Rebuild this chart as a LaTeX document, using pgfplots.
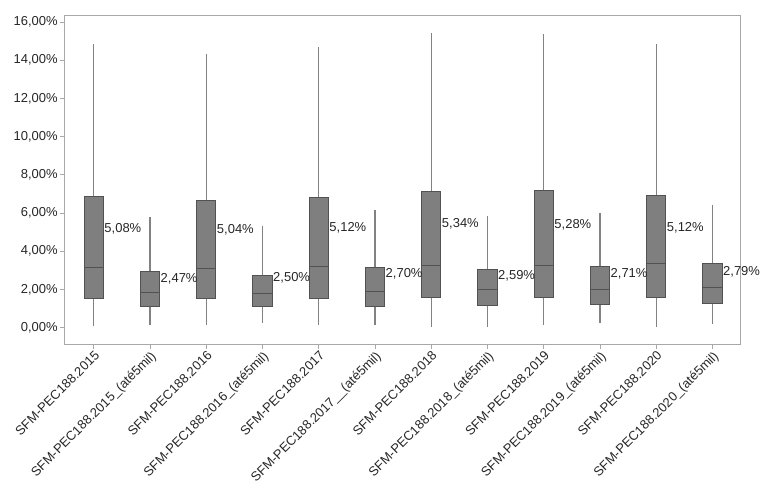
\documentclass[border=0pt]{standalone}
\usepackage{pgfplots}
\pgfplotsset{compat=1.18}
\usepgfplotslibrary{statistics}
\usepackage{fontspec}
\setmainfont{Liberation Sans}

\definecolor{boxfill}{HTML}{7F7F7F}
\definecolor{boxline}{HTML}{525252}
\definecolor{whisk}{HTML}{828282}
\definecolor{axline}{HTML}{A8A8A8}

\begin{document}
\begin{tikzpicture}
\begin{axis}[
    scale only axis,
    width=677pt, height=330pt,
    xmin=-0.53, xmax=11.49,
    ymin=-0.89, ymax=16.37,
    axis line style={axline},
    tick style={axline, line width=0.8pt},
    tick align=outside,
    major tick length=4pt,
    xtick pos=bottom, ytick pos=left,
    xtick={0,...,11},
    xticklabels={SFM-PEC188.2015, SFM-PEC188.2015\_(até5mil),
                 SFM-PEC188.2016, SFM-PEC188.2016\_(até5mil),
                 SFM-PEC188.2017, SFM-PEC188.2017\_\_(até5mil),
                 SFM-PEC188.2018, SFM-PEC188.2018\_(até5mil),
                 SFM-PEC188.2019, SFM-PEC188.2019\_(até5mil),
                 SFM-PEC188.2020, SFM-PEC188.2020\_(até5mil)},
    xticklabel style={rotate=45, anchor=north east, inner sep=1pt,
                      font=\fontsize{13}{15}\selectfont, text=black!85},
    ytick={0,2,...,16},
    yticklabel={\pgfmathprintnumber[fixed,fixed zerofill,precision=2,use comma]{\tick}\%},
    yticklabel style={font=\fontsize{13}{15}\selectfont, text=black!85, inner sep=2pt},
    /pgf/number format/assume math mode=true,
    boxplot/draw direction=y,
    boxplot/box extend=0.34,
    boxplot/whisker extend=0,
    boxplot/every box/.style={draw=boxline, fill=boxfill, line width=0.9pt},
    boxplot/every whisker/.style={draw=whisk, line width=1.2pt},
    boxplot/every median/.style={draw=boxline, line width=0.9pt},
]
% draw position, lower whisker, lower quartile, median, upper quartile, upper whisker
\addplot[boxplot prepared={draw position=0, lower whisker=0.08, lower quartile=1.51, median=3.15, upper quartile=6.84, upper whisker=14.86}] coordinates {};
\addplot[boxplot prepared={draw position=1, lower whisker=0.14, lower quartile=1.10, median=1.86, upper quartile=2.94, upper whisker=5.80}] coordinates {};
\addplot[boxplot prepared={draw position=2, lower whisker=0.14, lower quartile=1.51, median=3.11, upper quartile=6.65, upper whisker=14.34}] coordinates {};
\addplot[boxplot prepared={draw position=3, lower whisker=0.23, lower quartile=1.10, median=1.79, upper quartile=2.75, upper whisker=5.31}] coordinates {};
\addplot[boxplot prepared={draw position=4, lower whisker=0.14, lower quartile=1.51, median=3.19, upper quartile=6.79, upper whisker=14.69}] coordinates {};
\addplot[boxplot prepared={draw position=5, lower whisker=0.14, lower quartile=1.10, median=1.88, upper quartile=3.15, upper whisker=6.16}] coordinates {};
\addplot[boxplot prepared={draw position=6, lower whisker=0.05, lower quartile=1.60, median=3.27, upper quartile=7.12, upper whisker=15.44}] coordinates {};
\addplot[boxplot prepared={draw position=7, lower whisker=0.05, lower quartile=1.18, median=2.00, upper quartile=3.04, upper whisker=5.85}] coordinates {};
\addplot[boxplot prepared={draw position=8, lower whisker=0.14, lower quartile=1.60, median=3.27, upper quartile=7.17, upper whisker=15.35}] coordinates {};
\addplot[boxplot prepared={draw position=9, lower whisker=0.23, lower quartile=1.22, median=2.00, upper quartile=3.19, upper whisker=6.01}] coordinates {};
\addplot[boxplot prepared={draw position=10, lower whisker=0.05, lower quartile=1.60, median=3.34, upper quartile=6.93, upper whisker=14.86}] coordinates {};
\addplot[boxplot prepared={draw position=11, lower whisker=0.17, lower quartile=1.27, median=2.09, upper quartile=3.34, upper whisker=6.40}] coordinates {};

% mean labels beside each box
\addplot[draw=none, mark=none, point meta=y,
    nodes near coords={\pgfmathprintnumber[fixed,fixed zerofill,precision=2,use comma]{\pgfplotspointmeta}\%},
    nodes near coords align={anchor=west},
    every node near coord/.append style={anchor=west, inner sep=1pt, yshift=2pt,
        font=\fontsize{13}{15}\selectfont, text=black!85}]
coordinates {
(0.17,5.08) (1.17,2.47) (2.17,5.04) (3.17,2.50) (4.17,5.12) (5.17,2.70)
(6.17,5.34) (7.17,2.59) (8.17,5.28) (9.17,2.71) (10.17,5.12) (11.17,2.79)
};
\end{axis}
\path (current axis.south west) ++(-64pt,-147pt);
\path (current axis.north east) ++(20pt,15pt);
\end{tikzpicture}
\end{document}
